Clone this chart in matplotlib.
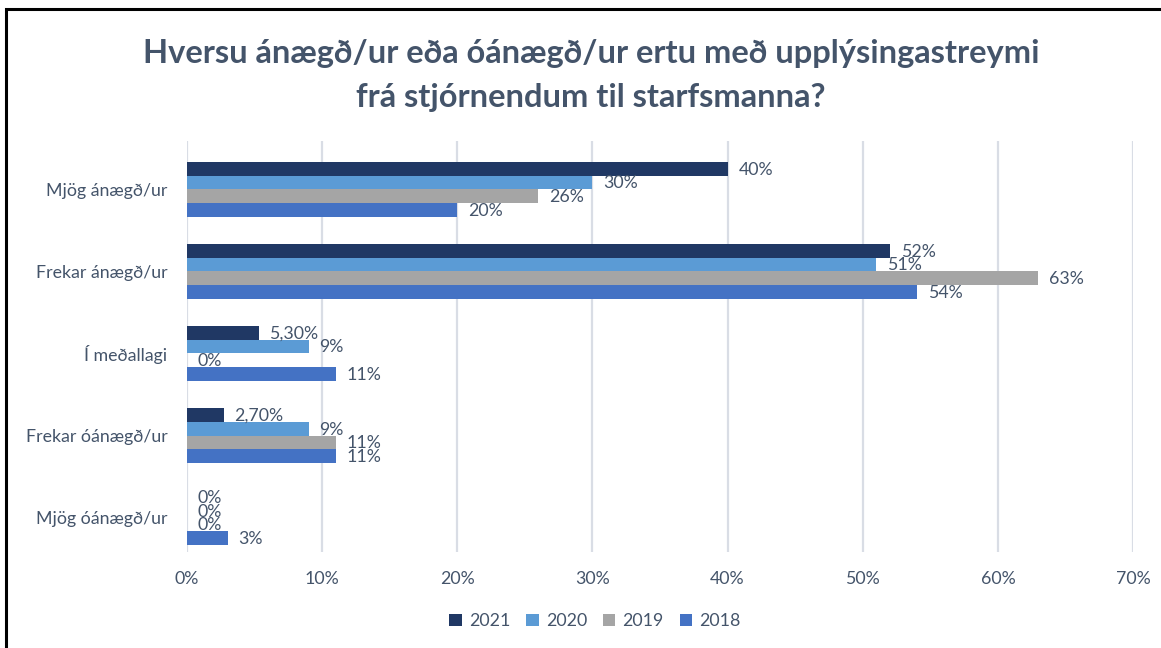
import matplotlib.pyplot as plt
from matplotlib.patches import Rectangle
import numpy as np

plt.rcParams['font.family'] = ['Lato', 'DejaVu Sans']

# ---- data ----
categories = ["Mjög ánægð/ur", "Frekar ánægð/ur", "Í meðallagi",
              "Frekar óánægð/ur", "Mjög óánægð/ur"]
years = ["2021", "2020", "2019", "2018"]
v2021 = [40, 52, 5.3, 2.7, 0]
v2020 = [30, 51, 9, 9, 0]
v2019 = [26, 63, 0, 11, 0]
v2018 = [20, 54, 11, 11, 3]
labels2021 = ["40%", "52%", "5,30%", "2,70%", "0%"]
labels2020 = ["30%", "51%", "9%", "9%", "0%"]
labels2019 = ["26%", "63%", "0%", "11%", "0%"]
labels2018 = ["20%", "54%", "11%", "11%", "3%"]

series = [v2021, v2020, v2019, v2018]
series_labels = [labels2021, labels2020, labels2019, labels2018]
colors = ["#203864", "#5B9BD5", "#A5A5A5", "#4472C4"]
txt = "#44546A"
fs = 12.8

fig = plt.figure(figsize=(11.61, 6.48), dpi=100)
ax = fig.add_axes([0.1611, 0.1481, 0.8148, 0.6343])

bar_h = 0.167
y = np.arange(len(categories))
for i, (vals, labs) in enumerate(zip(series, series_labels)):
    pos = y + (i - 1.5) * bar_h
    ax.barh(pos, vals, height=bar_h, color=colors[i], label=years[i], zorder=3)
    for p, v, lab in zip(pos, vals, labs):
        ax.text(v + 0.8, p + 0.01, lab, va="center", ha="left",
                fontsize=fs, color=txt, zorder=4)

ax.set_xlim(0, 70)
ax.set_ylim(4.42, -0.59)
ax.set_xticks(range(0, 71, 10))
ax.set_xticklabels([f"{t}%" for t in range(0, 71, 10)])
ax.set_yticks(y)
ax.set_yticklabels(categories)
ax.tick_params(axis="both", length=0, labelsize=fs, labelcolor=txt)
ax.tick_params(axis="x", pad=14)
ax.tick_params(axis="y", pad=14)
ax.grid(axis="x", color="#D9DDE5", linewidth=1.6, zorder=0)
for s in ax.spines.values():
    s.set_visible(False)

title1 = "Hversu ánægð/ur eða óánægð/ur ertu með upplýsingastreymi"
title2 = "frá stjórnendum til starfsmanna?"
fig.text(0.509, 1 - 63 / 648, title1, ha="center", va="baseline",
         fontsize=23.5, fontweight="bold", color=txt)
fig.text(0.509, 1 - 107 / 648, title2, ha="center", va="baseline",
         fontsize=23.5, fontweight="bold", color=txt)

ax.legend(loc="center", bbox_to_anchor=(0.5125, 0.0417), bbox_transform=fig.transFigure,
          ncol=4, frameon=False, fontsize=fs, labelcolor=txt,
          handlelength=0.7, handleheight=0.7, handletextpad=0.4, columnspacing=0.9)

# outer border (top and left visible)
fig.patches.append(Rectangle((6 / 1161, -0.05), 1.2, 1 - 9 / 648 + 0.05,
                             transform=fig.transFigure, fill=False,
                             edgecolor="black", linewidth=2.2))

fig.savefig("out.png", dpi=100)
